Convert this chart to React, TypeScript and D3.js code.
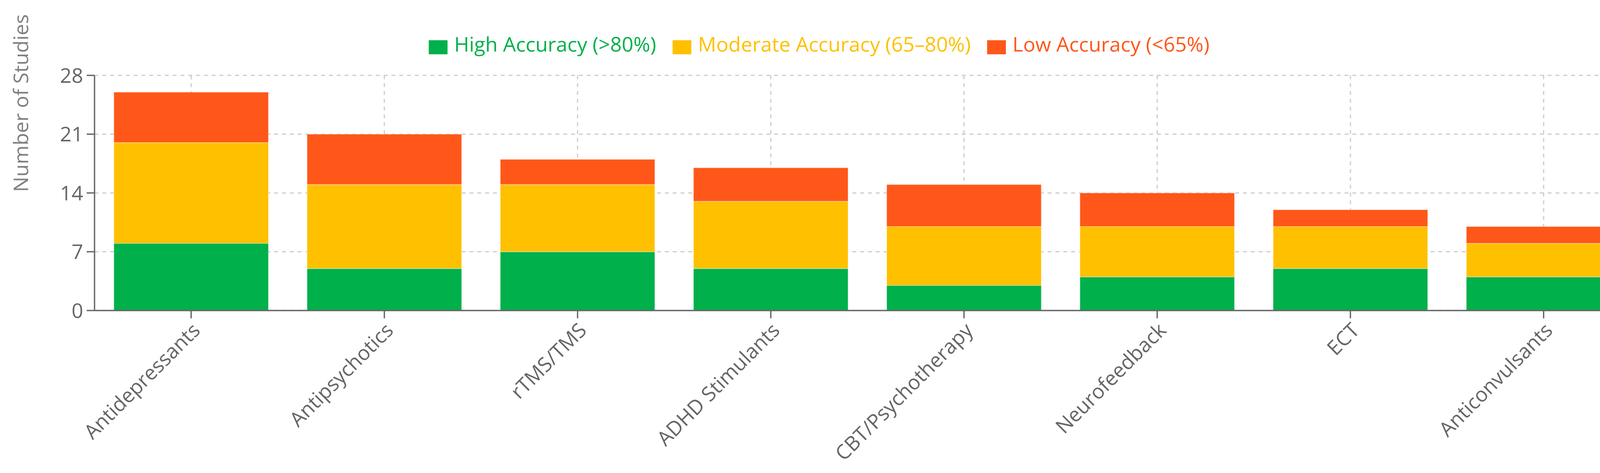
import React, { useMemo } from 'react';
import * as d3 from 'd3';

const categories = [
  'Antidepressants',
  'Antipsychotics',
  'rTMS/TMS',
  'ADHD Stimulants',
  'CBT/Psychotherapy',
  'Neurofeedback',
  'ECT',
  'Anticonvulsants',
];

const highAccuracy = [8, 5, 7, 5, 3, 4, 5, 4];
const moderateAccuracy = [12, 10, 8, 8, 7, 6, 5, 4];
const lowAccuracy = [6, 6, 3, 4, 5, 4, 2, 2];

const seriesKeys = ['high', 'moderate', 'low'];
const seriesLabels = ['High Accuracy (>80%)', 'Moderate Accuracy (65–80%)', 'Low Accuracy (<65%)'];
const seriesColors = ['#00b04a', '#ffc000', '#ff5719'];

const yTicks = [0, 7, 14, 21, 28];

const WIDTH = 4251;
const HEIGHT = 1211;
const margin = { top: 193, right: 52, bottom: 416, left: 242 };
const FONT = '"Open Sans", "Noto Sans", sans-serif';
const FS = 52;

const measure = (text: string, size: number) => {
  const ctx = document.createElement('canvas').getContext('2d');
  if (!ctx) return text.length * size * 0.55;
  ctx.font = `${size}px ${FONT}`;
  return ctx.measureText(text).width;
};

const App: React.FC = () => {
  const rows = categories.map((c, i) => ({
    category: c,
    high: highAccuracy[i],
    moderate: moderateAccuracy[i],
    low: lowAccuracy[i],
  }));

  const stacked = d3.stack<any>().keys(seriesKeys)(rows);

  const x0 = margin.left;
  const x1 = WIDTH - margin.right;
  const yBottom = HEIGHT - margin.bottom;

  const x = d3.scaleBand<string>()
    .domain(categories)
    .range([x0, x1])
    .paddingInner(0.2)
    .paddingOuter(0.1);

  const y = d3.scaleLinear()
    .domain([0, 28])
    .range([yBottom, margin.top]);

  // legend layout
  const iconW = 48;
  const iconH = 36;
  const iconGap = 17;
  const itemGap = 42;
  const legendItems = useMemo(() => {
    const widths = seriesLabels.map(l => measure(l, FS));
    const total = widths.reduce((a, w) => a + iconW + iconGap + w, 0) + itemGap * (widths.length - 1);
    let cx = 2097 - total / 2;
    return widths.map((w, i) => {
      const item = { x: cx, w, label: seriesLabels[i], color: seriesColors[i] };
      cx += iconW + iconGap + w + itemGap;
      return item;
    });
  }, []);

  const gridColor = '#cccccc';
  const axisColor = '#666666';

  return (
    <div style={{ position: 'absolute', left: 0, top: 0 }}>
      <svg width={WIDTH} height={HEIGHT} style={{ display: 'block', background: '#fff' }} fontFamily={FONT}>
        {/* grid */}
        <g stroke={gridColor} strokeWidth={3} strokeDasharray="10 10" fill="none">
          {yTicks.map(t => (
            <line key={`h${t}`} x1={x0} x2={x1} y1={y(t)} y2={y(t)} />
          ))}
          {categories.map(c => (
            <line key={`v${c}`} x1={x(c)! + x.bandwidth() / 2} x2={x(c)! + x.bandwidth() / 2} y1={margin.top} y2={yBottom} />
          ))}
          <line x1={x1} x2={x1} y1={margin.top} y2={yBottom} />
        </g>

        {/* bars */}
        {stacked.map((s, si) => (
          <g key={s.key} fill={seriesColors[si]}>
            {s.map((d, i) => (
              <rect
                key={categories[i]}
                x={x(categories[i])}
                width={x.bandwidth()}
                y={y(d[1])}
                height={y(d[0]) - y(d[1])}
                stroke="#ffffff"
                strokeOpacity={0.35}
                strokeWidth={2}
              />
            ))}
          </g>
        ))}

        {/* y axis */}
        <g>
          <line x1={x0} x2={x0} y1={margin.top} y2={yBottom} stroke={axisColor} strokeWidth={3.4} />
          {yTicks.map(t => (
            <g key={`yt${t}`}>
              <line x1={x0 - 20} x2={x0} y1={y(t)} y2={y(t)} stroke={axisColor} strokeWidth={3.4} />
              <text x={x0 - 29} y={y(t)} dy="0.36em" textAnchor="end" fill={axisColor} fontSize={FS}>
                {t}
              </text>
            </g>
          ))}
        </g>

        {/* x axis */}
        <g>
          <line x1={x0} x2={x1} y1={yBottom} y2={yBottom} stroke={axisColor} strokeWidth={3.4} />
          {categories.map(c => {
            const cx = x(c)! + x.bandwidth() / 2;
            return (
              <g key={`xt${c}`}>
                <line x1={cx} x2={cx} y1={yBottom} y2={yBottom + 20} stroke={axisColor} strokeWidth={3.4} />
                <text
                  transform={`translate(${cx},${yBottom + 28}) rotate(-45)`}
                  dy="0.71em"
                  textAnchor="end"
                  fill={axisColor}
                  fontSize={FS}
                >
                  {c}
                </text>
              </g>
            );
          })}
        </g>

        {/* y title */}
        <text
          transform={`translate(72,264) rotate(-90)`}
          textAnchor="middle"
          fill="#808080"
          fontSize={FS}
        >
          Number of Studies
        </text>

        {/* legend */}
        {legendItems.map(it => (
          <g key={it.label}>
            <rect x={it.x} y={121 - iconH / 2} width={iconW} height={iconH} fill={it.color} />
            <text x={it.x + iconW + iconGap} y={132} fill={it.color} fontSize={FS}>
              {it.label}
            </text>
          </g>
        ))}
      </svg>
    </div>
  );
};

export default App;
